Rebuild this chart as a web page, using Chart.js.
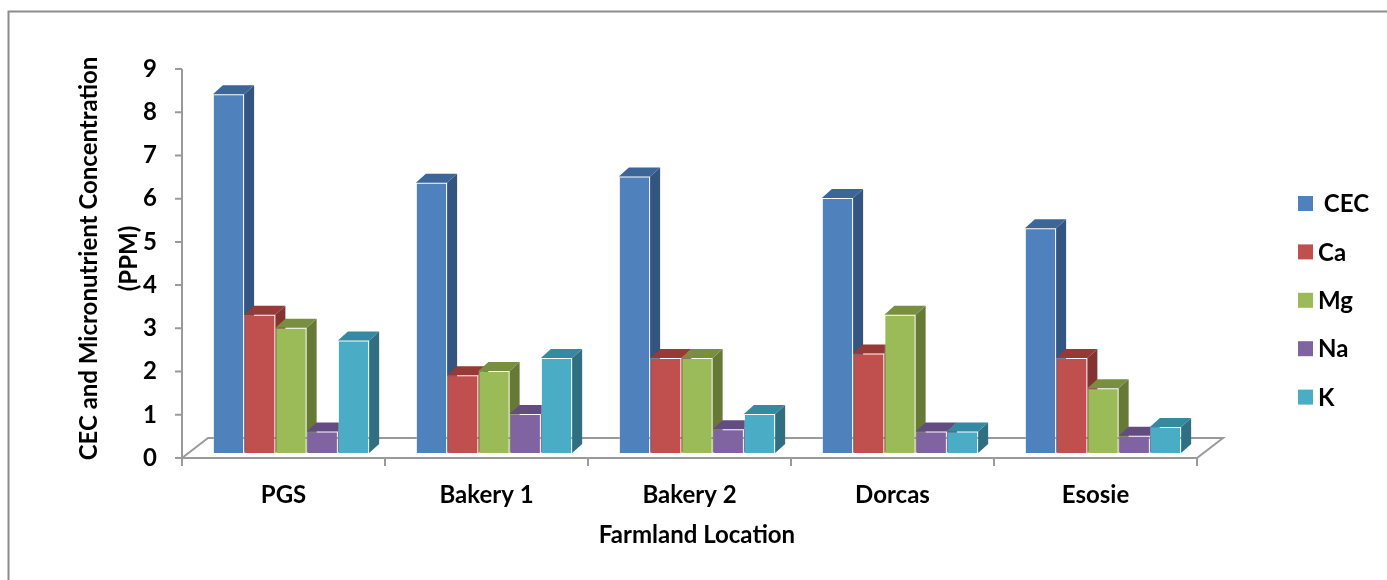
<!DOCTYPE html>
<html>
<head>
<meta charset="utf-8">
<script src="https://cdn.jsdelivr.net/npm/chart.js@4.4.1/dist/chart.umd.min.js"></script>
<style>
  html, body { margin: 0; padding: 0; background: #fff; }
  #wrap { width: 1387px; height: 580px; }
</style>
</head>
<body>
<div id="wrap"><canvas id="soil" width="1387" height="580"></canvas></div>
<script>
// farm sites and readings (ppm)
var locations = ["PGS", "Bakery 1", "Bakery 2", "Dorcas", "Esosie"];
var cec = [8.3, 6.25, 6.4, 5.9, 5.2];
var ca  = [3.2, 1.8, 2.2, 2.3, 2.2];
var mg  = [2.9, 1.9, 2.2, 3.2, 1.5];
var na  = [0.5, 0.9, 0.55, 0.5, 0.4];
var k   = [2.6, 2.2, 0.9, 0.5, 0.6];
var seriesNames = [" CEC", "Ca", "Mg", "Na", "K"];
var yMin = 0, yMax = 9, yStep = 1;

// front / side / top shades for each series
var fronts = ["#4F81BD", "#C0504D", "#9BBB59", "#8064A2", "#4BACC6"];
var sides  = ["#34557F", "#833331", "#667A36", "#5A4677", "#2F6F81"];
var tops   = ["#3D6698", "#953A37", "#778F3E", "#634C80", "#3589A0"];

var FONT = "Lato, 'Liberation Sans', sans-serif";
var FS = 24;
var DEPTH_X = 10, DEPTH_Y = -9;     // bar depth
var FRONT_DX = -7.5, FRONT_DY = 5;  // front edge of the floor
var FLOOR_DX = 26, FLOOR_DY = -20;  // floor depth
var AXIS = "#9A9A9A";

var allValues = [cec, ca, mg, na, k];
var datasets = allValues.map(function (vals, i) {
  return {
    label: seriesNames[i],
    data: vals,
    backgroundColor: fronts[i],
    borderColor: "rgba(255,255,255,0.28)",
    borderWidth: 1
  };
});

function poly(ctx, pts, fill) {
  ctx.beginPath();
  ctx.moveTo(pts[0][0], pts[0][1]);
  for (var i = 1; i < pts.length; i++) ctx.lineTo(pts[i][0], pts[i][1]);
  ctx.closePath();
  ctx.fillStyle = fill;
  ctx.fill();
}

var frame = {
  id: "frame",
  beforeDraw: function (chart) {
    var ctx = chart.ctx;
    ctx.save();
    ctx.strokeStyle = "#8C8C8C";
    ctx.lineWidth = 2;
    ctx.beginPath();
    ctx.moveTo(8.5, chart.height);
    ctx.lineTo(8.5, 11.5);
    ctx.lineTo(chart.width, 11.5);
    ctx.stroke();
    ctx.restore();
  }
};

// floor, value axis and category ticks, drawn in the front plane
var floor = {
  id: "floor",
  beforeDatasetsDraw: function (chart) {
    var ctx = chart.ctx, a = chart.chartArea;
    var xs = chart.scales.x, ys = chart.scales.y;
    var y0 = ys.getPixelForValue(0) + FRONT_DY;
    var l = a.left + FRONT_DX, r = a.right + FRONT_DX;
    ctx.save();
    ctx.strokeStyle = AXIS;
    ctx.lineWidth = 2;
    ctx.beginPath();
    ctx.moveTo(l, y0);
    ctx.lineTo(l + FLOOR_DX, y0 + FLOOR_DY);
    ctx.lineTo(r + FLOOR_DX, y0 + FLOOR_DY);
    ctx.lineTo(r, y0);
    ctx.lineTo(l, y0);
    ctx.stroke();

    // value axis
    ctx.beginPath();
    ctx.moveTo(l, ys.getPixelForValue(yMax) + FRONT_DY);
    ctx.lineTo(l, y0);
    for (var v = yMin; v <= yMax; v += yStep) {
      var ty = ys.getPixelForValue(v) + FRONT_DY;
      ctx.moveTo(l - 7, ty);
      ctx.lineTo(l, ty);
    }
    // category boundaries
    var w = (a.right - a.left) / locations.length;
    for (var i = 0; i <= locations.length; i++) {
      var tx = xs.getPixelForValue(Math.min(i, locations.length - 1)) + (i < locations.length ? -w / 2 : w / 2) + FRONT_DX;
      ctx.moveTo(tx, y0);
      ctx.lineTo(tx, y0 + 8);
    }
    ctx.stroke();
    ctx.restore();
  }
};

// bars drawn left series first: front, then side and top, so the next
// bar's front hides the part of the side it stands against
var bars3d = {
  id: "bars3d",
  beforeDatasetDraw: function () { return false; },
  afterDatasetsDraw: function (chart) {
    var ctx = chart.ctx;
    ctx.save();
    for (var i = 0; i < chart.data.datasets.length; i++) {
      chart.getDatasetMeta(i).data.forEach(function (bar) {
        var p = bar.getProps(["x", "y", "base", "width"], true);
        var l = p.x - p.width / 2, r = p.x + p.width / 2;
        bar.draw(ctx, chart.chartArea);
        poly(ctx, [[r, p.y], [r + DEPTH_X, p.y + DEPTH_Y], [r + DEPTH_X, p.base + DEPTH_Y], [r, p.base]], sides[i]);
        poly(ctx, [[l, p.y], [r, p.y], [r + DEPTH_X, p.y + DEPTH_Y], [l + DEPTH_X, p.y + DEPTH_Y]], tops[i]);
      });
    }
    ctx.restore();
  }
};

var legendBox = {
  id: "legendBox",
  afterDraw: function (chart) {
    var ctx = chart.ctx;
    ctx.save();
    ctx.font = "bold " + FS + "px " + FONT;
    ctx.textBaseline = "middle";
    chart.data.datasets.forEach(function (ds, i) {
      var cy = 203.5 + i * 48.4;
      ctx.fillStyle = ds.backgroundColor;
      ctx.fillRect(1298, cy - 7.5, 15, 15);
      ctx.fillStyle = "#000";
      ctx.fillText(ds.label, 1318, cy + 1);
    });
    ctx.restore();
  }
};

new Chart(document.getElementById("soil"), {
  type: "bar",
  data: { labels: locations, datasets: datasets },
  options: {
    responsive: false,
    animation: false,
    layout: { padding: { left: 20, right: 182.5, top: 64, bottom: 0 } },
    datasets: { bar: { categoryPercentage: 0.77, barPercentage: 1 } },
    plugins: { legend: { display: false }, tooltip: { enabled: false } },
    scales: {
      x: {
        grid: { display: false, drawTicks: false },
        border: { display: false },
        ticks: { color: "#000", font: { family: FONT, size: FS, weight: "bold" }, padding: 28, labelOffset: FRONT_DX },
        title: { display: true, text: "Farmland Location", color: "#000", font: { family: FONT, size: FS, weight: "bold" }, padding: { top: 0, bottom: 30 } },
        afterFit: function (s) { s.height = 127; }
      },
      y: {
        min: yMin, max: yMax,
        grid: { display: false, drawTicks: false },
        border: { display: false },
        ticks: { stepSize: yStep, color: "#000", font: { family: FONT, size: FS, weight: "bold" }, padding: 32.5, labelOffset: FRONT_DY },
        title: {
          display: true,
          text: ["CEC and Micronutrient Concentration", "(PPM)"],
          color: "#000",
          font: { family: FONT, size: FS, weight: "bold", lineHeight: "40px" },
          padding: { top: 49, bottom: 0 }
        },
        afterFit: function (s) { s.width = 169.5; }
      }
    }
  },
  plugins: [frame, floor, bars3d, legendBox]
});
</script>
</body>
</html>
